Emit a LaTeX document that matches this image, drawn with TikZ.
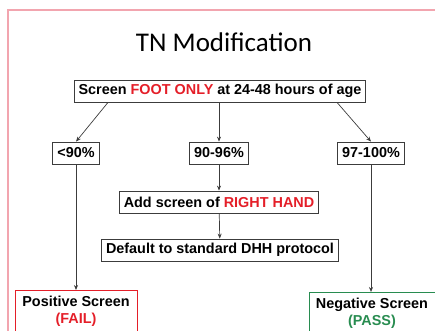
\documentclass[tikz,border=0pt]{standalone}
\usepackage{fontspec}
\setmainfont{Liberation Sans}
\newfontfamily\titlefont{Carlito}
\usepackage{tikz}
\usetikzlibrary{arrows.meta,positioning,calc}
\definecolor{slidepink}{RGB}{242,165,175}
\definecolor{failred}{RGB}{228,30,40}
\definecolor{passgreen}{RGB}{40,140,80}
\definecolor{linegray}{RGB}{60,60,60}

\begin{document}
\begin{tikzpicture}[
  x=1pt, y=-1pt,
  every node/.style={font=\bfseries\fontsize{14.4}{17}\selectfont, align=center},
  box/.style={draw=linegray, line width=0.8pt, minimum height=22pt, inner xsep=4.5pt, inner ysep=2pt},
  endbox/.style={draw, line width=1pt, minimum height=46pt, inner xsep=3pt, inner ysep=6pt, anchor=north, text depth=22pt},
  conn/.style={draw=linegray, line width=0.7pt, -{Stealth[length=5pt,width=4pt]}},
  >=Stealth
]
\useasboundingbox (0,0) rectangle (435,330);
\clip (0,0) rectangle (435,330);
% slide frame
\draw[slidepink, line width=1.2pt] (8,10) rectangle (460,360);
\node[font=\titlefont\fontsize{27}{32}\selectfont] (title) at (224,42) {TN Modification};

\node[box] (foot) at (220,91) {Screen \textcolor{failred}{FOOT ONLY} at 24-48 hours of age};
\node[box] (low) at (76,153) {<90\%};
\node[box] (mid) at (219,153) {90-96\%};
\node[box] (high) at (371,153) {97-100\%};
\node[box] (hand) at (219,202) {Add screen of \textcolor{failred}{RIGHT HAND}};
\node[box] (dhh) at (220,250) {Default to standard DHH protocol};
\node[endbox, draw=failred, minimum width=122pt] (fail) at (76,290) {Positive Screen\\\textcolor{failred}{(FAIL)}};
\node[endbox, draw=passgreen, minimum width=126pt] (pass) at (372,292) {Negative Screen\\\textcolor{passgreen}{(PASS)}};

\draw[conn] ([xshift=-112pt]foot.south) -- (low.north);
\draw[conn] ([xshift=-1pt]foot.south) -- (mid.north);
\draw[conn] ([xshift=117pt]foot.south) -- (high.north);
\draw[conn] (mid) -- (hand);
\draw[conn] (hand) -- (dhh);
\draw[conn] (low) -- (low |- fail.north);
\draw[conn] (high) -- (high |- pass.north);
\end{tikzpicture}
\end{document}
